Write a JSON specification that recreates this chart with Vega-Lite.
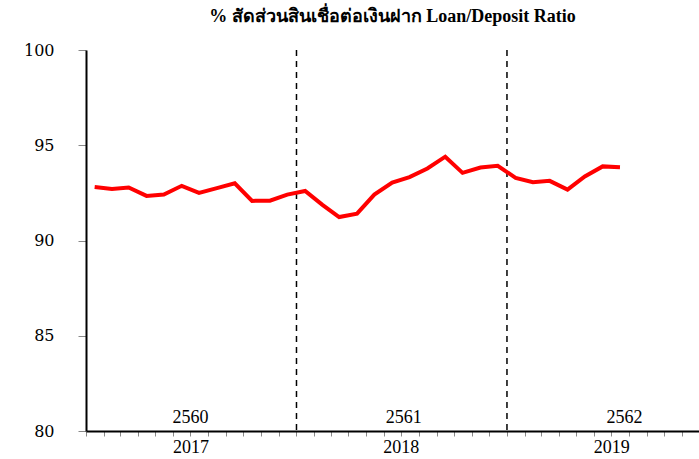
{
  "$schema": "https://vega.github.io/schema/vega-lite/v6.json",
  "autosize": "none",
  "width": 613,
  "height": 381,
  "padding": {"left": 86, "top": 50, "right": 0, "bottom": 28},
  "background": "white",
  "config": {"view": {"stroke": null}},
  "title": {
    "text": "% สัดส่วนสินเชื่อต่อเงินฝาก Loan/Deposit Ratio",
    "font": "Liberation Serif",
    "fontSize": 18,
    "fontWeight": "bold",
    "color": "black",
    "anchor": "middle",
    "offset": 16
  },
  "datasets": {
    "ratio": [
      {"date": "2017-01-16", "ratio": 92.81},
      {"date": "2017-02-15", "ratio": 92.71},
      {"date": "2017-03-16", "ratio": 92.78},
      {"date": "2017-04-16", "ratio": 92.34},
      {"date": "2017-05-16", "ratio": 92.41},
      {"date": "2017-06-16", "ratio": 92.87},
      {"date": "2017-07-16", "ratio": 92.50},
      {"date": "2017-08-16", "ratio": 92.75},
      {"date": "2017-09-16", "ratio": 93.00},
      {"date": "2017-10-16", "ratio": 92.08},
      {"date": "2017-11-16", "ratio": 92.09},
      {"date": "2017-12-16", "ratio": 92.41},
      {"date": "2018-01-16", "ratio": 92.60},
      {"date": "2018-02-15", "ratio": 91.87},
      {"date": "2018-03-16", "ratio": 91.23},
      {"date": "2018-04-16", "ratio": 91.41},
      {"date": "2018-05-16", "ratio": 92.41},
      {"date": "2018-06-16", "ratio": 93.04},
      {"date": "2018-07-16", "ratio": 93.33},
      {"date": "2018-08-16", "ratio": 93.78},
      {"date": "2018-09-16", "ratio": 94.40},
      {"date": "2018-10-16", "ratio": 93.55},
      {"date": "2018-11-16", "ratio": 93.83},
      {"date": "2018-12-16", "ratio": 93.92},
      {"date": "2019-01-16", "ratio": 93.29},
      {"date": "2019-02-15", "ratio": 93.06},
      {"date": "2019-03-16", "ratio": 93.13},
      {"date": "2019-04-16", "ratio": 92.67},
      {"date": "2019-05-16", "ratio": 93.36},
      {"date": "2019-06-16", "ratio": 93.89},
      {"date": "2019-07-16", "ratio": 93.85}
    ],
    "breaks": [
      {"date": "2018-01-01"},
      {"date": "2019-01-01"}
    ],
    "thai": [
      {"label": "2560", "date": "2017-07-01"},
      {"label": "2561", "date": "2018-07-06"},
      {"label": "2562", "date": "2019-07-24"}
    ]
  },
  "encoding": {
    "x": {
      "field": "date",
      "type": "temporal",
      "scale": {
        "type": "utc",
        "domain": [
          {"year": 2017, "month": 1, "date": 1, "utc": true},
          {"year": 2019, "month": 11, "date": 30, "utc": true}
        ]
      },
      "axis": {
        "title": null,
        "grid": false,
        "tickCount": {"interval": "month", "step": 1},
        "domainColor": "black",
        "domainWidth": 2,
        "tickColor": "#888888",
        "tickSize": 5,
        "tickWidth": 1,
        "labelExpr": "utcFormat(datum.value, '%m') == '07' ? utcFormat(datum.value, '%Y') : ''",
        "labelOverlap": false,
        "labelFont": "Liberation Serif",
        "labelFontSize": 18,
        "labelColor": "black",
        "labelPadding": 2
      }
    }
  },
  "layer": [
    {
      "data": {"name": "breaks"},
      "mark": {"type": "rule", "color": "black", "strokeWidth": 1.5, "strokeDash": [6, 5]},
      "encoding": {}
    },
    {
      "data": {"name": "thai"},
      "mark": {"type": "text", "font": "Liberation Serif", "fontSize": 18, "color": "black", "baseline": "alphabetic", "align": "center"},
      "encoding": {
        "y": {"datum": 80.42, "type": "quantitative"},
        "text": {"field": "label"}
      }
    },
    {
      "data": {"name": "ratio"},
      "mark": {"type": "line", "color": "#FF0000", "strokeWidth": 4},
      "encoding": {
        "y": {
          "field": "ratio",
          "type": "quantitative",
          "scale": {"domain": [80, 100], "nice": false, "zero": false},
          "axis": {
            "title": null,
            "grid": false,
            "values": [80, 85, 90, 95, 100],
            "domainColor": "black",
            "domainWidth": 2,
            "tickColor": "#888888",
            "tickSize": 8,
            "tickWidth": 1,
            "labelFont": "DejaVu Serif",
            "labelFontSize": 16,
            "labelColor": "black",
            "labelPadding": 24
          }
        }
      }
    },
    {
      "data": {"values": [{"top": 100}]},
      "mark": {"type": "rule", "color": "black", "strokeWidth": 2},
      "encoding": {"y": {"field": "top", "type": "quantitative"}}
    }
  ]
}
